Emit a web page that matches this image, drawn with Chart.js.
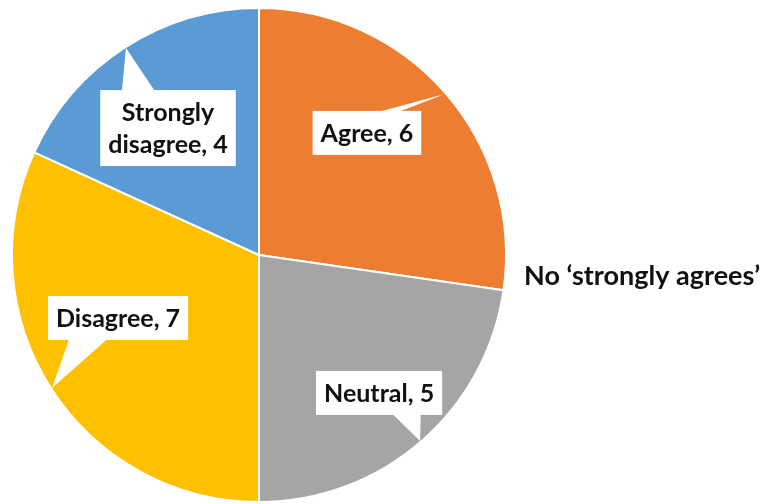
<!DOCTYPE html>
<html>
<head>
<meta charset="utf-8">
<script src="https://cdn.jsdelivr.net/npm/chart.js@4"></script>
<style>
  html, body { margin: 0; padding: 0; background: #fff; }
  #wrap { width: 776px; height: 504px; }
</style>
</head>
<body>
<div id="wrap"><canvas id="pieChart" width="776" height="504"></canvas></div>
<script>
const categories = ["Agree", "Neutral", "Disagree", "Strongly disagree"];
const counts = [6, 5, 7, 4];
const sliceColors = ["#ED7D31", "#A5A5A5", "#FFC000", "#5B9BD5"];
const sideNote = "No \u2018strongly agrees\u2019";

// callout placement per slice: box centre offset from the tail tip,
// which edge the tail leaves from, and where along that edge
const callouts = [
    { dx: -78, dy: 39, side: "top", a: 0.62, b: 0.80, lines: ["Agree, 6"] },
    { dx: -41, dy: -48, side: "bottom", a: 0.61, b: 0.83, lines: ["Neutral, 5"] },
    { dx: 66, dy: -70, side: "bottom", a: 0.15, b: 0.42, lines: ["Disagree, 7"] },
    { dx: 42, dy: 80, side: "top", a: 0.16, b: 0.40, lines: ["Strongly", "disagree, 4"] }
];

const FONT = "bold 25px Lato, 'Open Sans', sans-serif";

const calloutPlugin = {
    id: "callouts",
    afterDatasetsDraw(chart) {
        const ctx = chart.ctx;
        const arcs = chart.getDatasetMeta(0).data;
        ctx.save();
        ctx.font = FONT;
        arcs.forEach((arc, i) => {
            const c = callouts[i];
            const mid = (arc.startAngle + arc.endAngle) / 2;
            const r = arc.outerRadius - 1;
            const tipX = arc.x + Math.cos(mid) * r;
            const tipY = arc.y + Math.sin(mid) * r;

            const lineH = 32;
            const textW = Math.max(...c.lines.map(l => ctx.measureText(l).width));
            const w = textW + 16;
            const h = c.lines.length * lineH + 12;
            const cx = tipX + c.dx, cy = tipY + c.dy;
            const left = cx - w / 2, top = cy - h / 2;

            ctx.fillStyle = "#ffffff";
            ctx.fillRect(left, top, w, h);
            const ey = c.side === "top" ? top + 0.5 : top + h - 0.5;
            ctx.beginPath();
            ctx.moveTo(left + w * c.a, ey);
            ctx.lineTo(tipX, tipY);
            ctx.lineTo(left + w * c.b, ey);
            ctx.closePath();
            ctx.fill();

            ctx.fillStyle = "#111111";
            ctx.textAlign = "center";
            ctx.textBaseline = "middle";
            c.lines.forEach((l, k) => {
                ctx.fillText(l, cx, top + 6 + lineH * k + lineH / 2 + 1);
            });
        });

        ctx.font = "bold 27px Lato, 'Open Sans', sans-serif";
        ctx.fillStyle = "#111111";
        ctx.textAlign = "left";
        ctx.textBaseline = "middle";
        ctx.fillText(sideNote, 524, 276);
        ctx.restore();
    }
};

new Chart(document.getElementById("pieChart"), {
    type: "pie",
    data: {
        labels: categories,
        datasets: [{
            data: counts,
            backgroundColor: sliceColors,
            borderColor: "#ffffff",
            borderWidth: 2
        }]
    },
    options: {
        responsive: false,
        animation: false,
        layout: { padding: { left: 11, right: 269, top: 7, bottom: 1 } },
        plugins: {
            legend: { display: false },
            tooltip: { enabled: false }
        }
    },
    plugins: [calloutPlugin]
});
</script>
</body>
</html>
